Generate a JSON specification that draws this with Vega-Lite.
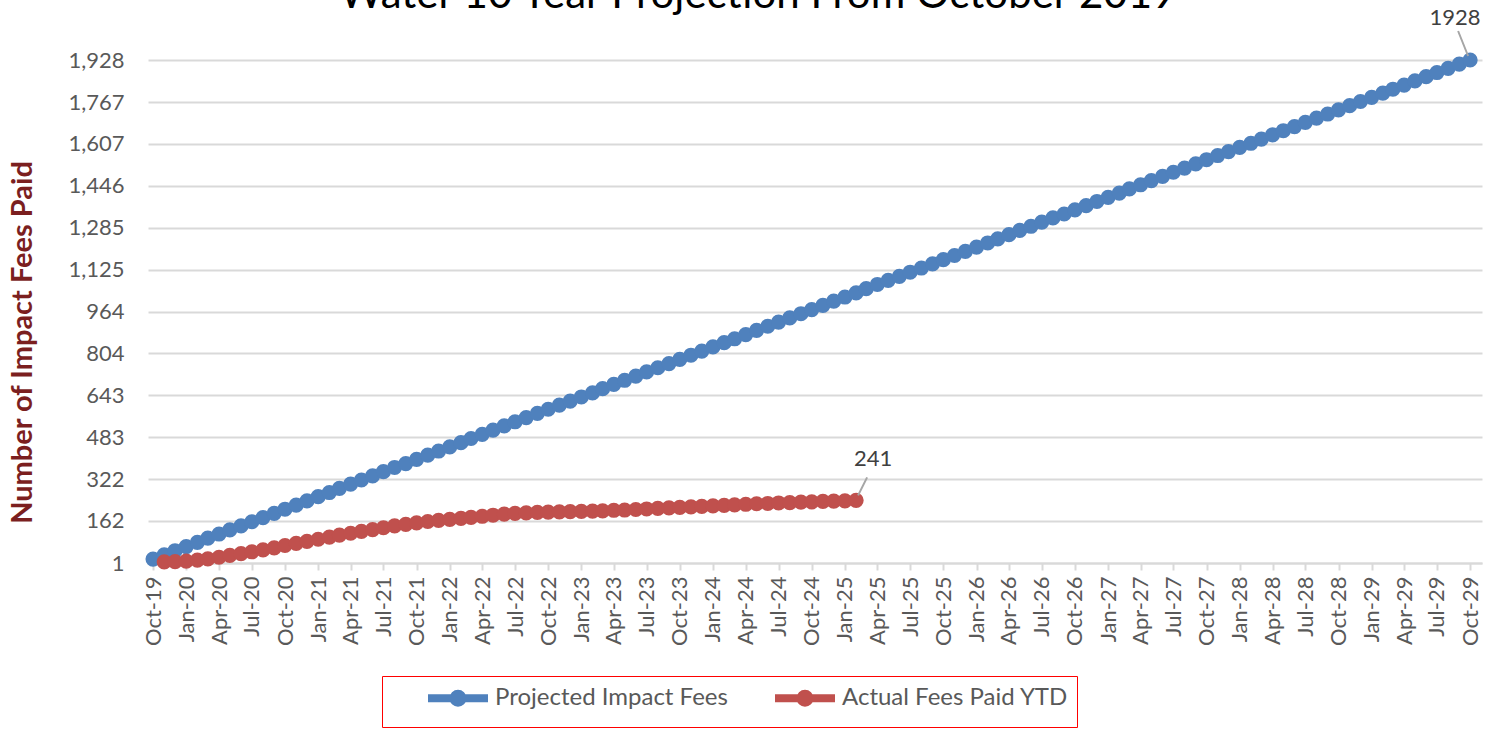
{
  "$schema": "https://vega.github.io/schema/vega-lite/v6.json",
  "autosize": {"type": "none"},
  "width": 1334,
  "height": 503,
  "padding": {"left": 148, "top": 60, "right": 23, "bottom": 177},
  "background": "white",
  "title": {
    "text": "Water 10 Year Projection From October 2019",
    "font": "Lato",
    "fontSize": 42,
    "fontWeight": "normal",
    "color": "#000000",
    "anchor": "middle",
    "frame": "group",
    "baseline": "alphabetic",
    "offset": 1,
    "dx": -57,
    "dy": 44
  },
  "config": {
    "view": {"stroke": null},
    "axis": {"labelFont": "Lato", "labelFontSize": 22, "labelColor": "#595959"},
    "legend": {"labelFont": "Lato", "labelFontSize": 24, "labelColor": "#595959"}
  },
  "data": {
    "values": [
      {"d": "2019-10-01", "p": 16},
      {"d": "2019-11-01", "p": 32, "a": 5},
      {"d": "2019-12-01", "p": 48, "a": 6},
      {"d": "2020-01-01", "p": 64, "a": 8},
      {"d": "2020-02-01", "p": 80, "a": 12},
      {"d": "2020-03-01", "p": 96, "a": 17},
      {"d": "2020-04-01", "p": 112, "a": 23},
      {"d": "2020-05-01", "p": 128, "a": 30},
      {"d": "2020-06-01", "p": 143, "a": 37},
      {"d": "2020-07-01", "p": 159, "a": 44},
      {"d": "2020-08-01", "p": 175, "a": 51},
      {"d": "2020-09-01", "p": 191, "a": 59},
      {"d": "2020-10-01", "p": 207, "a": 68},
      {"d": "2020-11-01", "p": 223, "a": 76},
      {"d": "2020-12-01", "p": 239, "a": 84},
      {"d": "2021-01-01", "p": 255, "a": 92},
      {"d": "2021-02-01", "p": 271, "a": 100},
      {"d": "2021-03-01", "p": 287, "a": 108},
      {"d": "2021-04-01", "p": 303, "a": 115},
      {"d": "2021-05-01", "p": 319, "a": 122},
      {"d": "2021-06-01", "p": 335, "a": 129},
      {"d": "2021-07-01", "p": 351, "a": 136},
      {"d": "2021-08-01", "p": 367, "a": 143},
      {"d": "2021-09-01", "p": 382, "a": 149},
      {"d": "2021-10-01", "p": 398, "a": 155},
      {"d": "2021-11-01", "p": 414, "a": 160},
      {"d": "2021-12-01", "p": 430, "a": 164},
      {"d": "2022-01-01", "p": 446, "a": 168},
      {"d": "2022-02-01", "p": 462, "a": 172},
      {"d": "2022-03-01", "p": 478, "a": 176},
      {"d": "2022-04-01", "p": 494, "a": 180},
      {"d": "2022-05-01", "p": 510, "a": 184},
      {"d": "2022-06-01", "p": 526, "a": 188},
      {"d": "2022-07-01", "p": 542, "a": 191},
      {"d": "2022-08-01", "p": 558, "a": 193},
      {"d": "2022-09-01", "p": 574, "a": 195},
      {"d": "2022-10-01", "p": 590, "a": 196},
      {"d": "2022-11-01", "p": 606, "a": 197},
      {"d": "2022-12-01", "p": 621, "a": 198},
      {"d": "2023-01-01", "p": 637, "a": 199},
      {"d": "2023-02-01", "p": 653, "a": 200},
      {"d": "2023-03-01", "p": 669, "a": 201},
      {"d": "2023-04-01", "p": 685, "a": 203},
      {"d": "2023-05-01", "p": 701, "a": 204},
      {"d": "2023-06-01", "p": 717, "a": 206},
      {"d": "2023-07-01", "p": 733, "a": 208},
      {"d": "2023-08-01", "p": 749, "a": 210},
      {"d": "2023-09-01", "p": 765, "a": 212},
      {"d": "2023-10-01", "p": 781, "a": 214},
      {"d": "2023-11-01", "p": 797, "a": 216},
      {"d": "2023-12-01", "p": 813, "a": 218},
      {"d": "2024-01-01", "p": 829, "a": 220},
      {"d": "2024-02-01", "p": 845, "a": 222},
      {"d": "2024-03-01", "p": 860, "a": 224},
      {"d": "2024-04-01", "p": 876, "a": 226},
      {"d": "2024-05-01", "p": 892, "a": 228},
      {"d": "2024-06-01", "p": 908, "a": 229},
      {"d": "2024-07-01", "p": 924, "a": 231},
      {"d": "2024-08-01", "p": 940, "a": 232},
      {"d": "2024-09-01", "p": 956, "a": 234},
      {"d": "2024-10-01", "p": 972, "a": 235},
      {"d": "2024-11-01", "p": 988, "a": 237},
      {"d": "2024-12-01", "p": 1004, "a": 238},
      {"d": "2025-01-01", "p": 1020, "a": 239},
      {"d": "2025-02-01", "p": 1036, "a": 241},
      {"d": "2025-03-01", "p": 1052},
      {"d": "2025-04-01", "p": 1068},
      {"d": "2025-05-01", "p": 1084},
      {"d": "2025-06-01", "p": 1099},
      {"d": "2025-07-01", "p": 1115},
      {"d": "2025-08-01", "p": 1131},
      {"d": "2025-09-01", "p": 1147},
      {"d": "2025-10-01", "p": 1163},
      {"d": "2025-11-01", "p": 1179},
      {"d": "2025-12-01", "p": 1195},
      {"d": "2026-01-01", "p": 1211},
      {"d": "2026-02-01", "p": 1227},
      {"d": "2026-03-01", "p": 1243},
      {"d": "2026-04-01", "p": 1259},
      {"d": "2026-05-01", "p": 1275},
      {"d": "2026-06-01", "p": 1291},
      {"d": "2026-07-01", "p": 1307},
      {"d": "2026-08-01", "p": 1323},
      {"d": "2026-09-01", "p": 1338},
      {"d": "2026-10-01", "p": 1354},
      {"d": "2026-11-01", "p": 1370},
      {"d": "2026-12-01", "p": 1386},
      {"d": "2027-01-01", "p": 1402},
      {"d": "2027-02-01", "p": 1418},
      {"d": "2027-03-01", "p": 1434},
      {"d": "2027-04-01", "p": 1450},
      {"d": "2027-05-01", "p": 1466},
      {"d": "2027-06-01", "p": 1482},
      {"d": "2027-07-01", "p": 1498},
      {"d": "2027-08-01", "p": 1514},
      {"d": "2027-09-01", "p": 1530},
      {"d": "2027-10-01", "p": 1546},
      {"d": "2027-11-01", "p": 1562},
      {"d": "2027-12-01", "p": 1577},
      {"d": "2028-01-01", "p": 1593},
      {"d": "2028-02-01", "p": 1609},
      {"d": "2028-03-01", "p": 1625},
      {"d": "2028-04-01", "p": 1641},
      {"d": "2028-05-01", "p": 1657},
      {"d": "2028-06-01", "p": 1673},
      {"d": "2028-07-01", "p": 1689},
      {"d": "2028-08-01", "p": 1705},
      {"d": "2028-09-01", "p": 1721},
      {"d": "2028-10-01", "p": 1737},
      {"d": "2028-11-01", "p": 1753},
      {"d": "2028-12-01", "p": 1769},
      {"d": "2029-01-01", "p": 1785},
      {"d": "2029-02-01", "p": 1801},
      {"d": "2029-03-01", "p": 1816},
      {"d": "2029-04-01", "p": 1832},
      {"d": "2029-05-01", "p": 1848},
      {"d": "2029-06-01", "p": 1864},
      {"d": "2029-07-01", "p": 1880},
      {"d": "2029-08-01", "p": 1896},
      {"d": "2029-09-01", "p": 1912},
      {"d": "2029-10-01", "p": 1928}
    ]
  },
  "encoding": {
    "x": {
      "field": "d",
      "type": "temporal",
      "scale": {
        "type": "utc",
        "domain": [
          {"year": 2019, "month": 9, "date": 17, "utc": true},
          {"year": 2029, "month": 11, "date": 3, "utc": true}
        ],
        "nice": false
      },
      "axis": {
        "title": null,
        "format": "%b-%y",
        "tickCount": {"interval": "month", "step": 3},
        "grid": false,
        "domain": true,
        "domainColor": "#D9D9D9",
        "domainWidth": 2,
        "ticks": true,
        "tickColor": "#D9D9D9",
        "tickWidth": 2,
        "tickSize": 7,
        "labelAngle": 270,
        "labelPadding": 6,
        "labelOverlap": false,
        "labelFlush": false,
        "labelBound": false
      }
    }
  },
  "layer": [
    {
      "mark": {"type": "line", "strokeWidth": 6},
      "encoding": {
        "y": {
          "field": "p",
          "type": "quantitative",
          "scale": {"domain": [1, 1928], "nice": false, "zero": false},
          "axis": {
            "title": "Number of Impact Fees Paid",
            "titleFont": "Lato",
            "titleFontSize": 29,
            "titleFontWeight": "bold",
            "titleColor": "#7B1F1F",
            "titleX": -126,
            "titleY": 282,
            "titleAngle": 270,
            "titleAlign": "center",
            "titleBaseline": "middle",
            "values": [1, 162, 322, 483, 643, 804, 964, 1125, 1285, 1446, 1607, 1767, 1928],
            "format": ",d",
            "grid": true,
            "gridColor": "#D9D9D9",
            "gridWidth": 2,
            "domain": false,
            "ticks": false,
            "labelPadding": 24
          }
        },
        "color": {
          "datum": "Projected Impact Fees",
          "scale": {
            "domain": ["Projected Impact Fees", "Actual Fees Paid YTD"],
            "range": ["#4F81BD", "#C0504D"]
          },
          "legend": {
            "title": null,
            "orient": "none",
            "direction": "horizontal",
            "legendX": 234,
            "legendY": 616,
            "strokeColor": "#FF0000",
            "padding": 8,
            "columnPadding": 9,
            "labelLimit": 400,
            "symbolOffset": 54,
            "labelOffset": 23,
            "symbolType": "M-3,0L3,0M-0.45,0A0.45,0.45,0,1,0,0.45,0A0.45,0.45,0,1,0,-0.45,0Z",
            "symbolSize": 400,
            "symbolStrokeWidth": 8
          }
        }
      }
    },
    {
      "mark": {"type": "point", "filled": true, "opacity": 1, "size": 230},
      "encoding": {
        "y": {"field": "p", "type": "quantitative"},
        "color": {"datum": "Projected Impact Fees"}
      }
    },
    {
      "transform": [{"filter": "isValid(datum.a)"}],
      "mark": {"type": "line", "strokeWidth": 6},
      "encoding": {
        "y": {"field": "a", "type": "quantitative"},
        "color": {"datum": "Actual Fees Paid YTD"}
      }
    },
    {
      "transform": [{"filter": "isValid(datum.a)"}],
      "mark": {"type": "point", "filled": true, "opacity": 1, "size": 230},
      "encoding": {
        "y": {"field": "a", "type": "quantitative"},
        "color": {"datum": "Actual Fees Paid YTD"}
      }
    },
    {
      "transform": [{"filter": "datum.p == 1928"}],
      "mark": {"type": "rule", "color": "#A6A6A6", "strokeWidth": 2, "xOffset": -12, "yOffset": -29, "x2Offset": -2, "y2Offset": -4},
      "encoding": {
        "y": {"field": "p", "type": "quantitative"},
        "x2": {"field": "d"},
        "y2": {"field": "p"}
      }
    },
    {
      "transform": [{"filter": "datum.p == 1928"}],
      "mark": {"type": "text", "font": "Lato", "fontSize": 22, "color": "#404040", "dx": -15, "dy": -42},
      "encoding": {
        "y": {"field": "p", "type": "quantitative"},
        "text": {"field": "p", "type": "quantitative", "format": "d"}
      }
    },
    {
      "transform": [{"filter": "datum.a == 241"}],
      "mark": {"type": "rule", "color": "#A6A6A6", "strokeWidth": 2, "xOffset": 11, "yOffset": -23, "x2Offset": 2, "y2Offset": -5},
      "encoding": {
        "y": {"field": "a", "type": "quantitative"},
        "x2": {"field": "d"},
        "y2": {"field": "a"}
      }
    },
    {
      "transform": [{"filter": "datum.a == 241"}],
      "mark": {"type": "text", "font": "Lato", "fontSize": 22, "color": "#404040", "dx": 17, "dy": -41},
      "encoding": {
        "y": {"field": "a", "type": "quantitative"},
        "text": {"field": "a", "type": "quantitative", "format": "d"}
      }
    }
  ]
}
